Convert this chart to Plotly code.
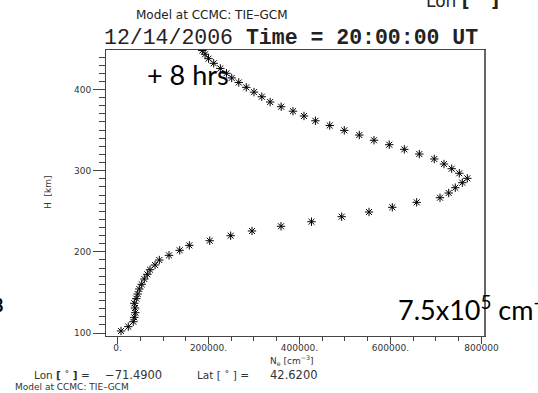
import plotly.graph_objects as go

heights = [102.5, 107.8, 113.9, 119.3, 125.0, 130.8, 136.6, 142.3, 148.0, 154.2,
           160.0, 166.5, 172.3, 178.0, 183.8, 189.9, 195.7, 201.9, 208.0, 213.7,
           219.9, 225.7, 231.5, 237.1, 243.3, 249.1, 254.9, 261.0, 266.7, 272.5,
           279.0, 285.2, 290.6, 296.8, 302.4, 308.2, 314.4, 320.5, 326.3, 332.0,
           337.5, 343.9, 349.7, 355.7, 361.5, 367.4, 373.3, 378.8, 384.6, 391.1,
           396.8, 402.7, 408.7, 414.3, 420.0, 426.0, 432.3, 438.0, 443.5, 448.0]
density = [7700, 23700, 34700, 36900, 39100, 38500, 36900, 41300, 44400, 47900,
           53200, 58900, 65500, 71400, 82400, 91900, 113200, 136700, 157800, 202700,
           248800, 295600, 359400, 426400, 492800, 552800, 604000, 657600, 708900, 728000,
           742500, 757900, 768900, 751300, 734600, 717600, 696300, 663400, 630400, 597400,
           563800, 531500, 498500, 466500, 435000, 409900, 385700, 359700, 335500, 317200,
           300000, 283000, 266500, 251000, 239500, 226000, 211500, 200000, 192500, 186400]

x_tickvals = [0, 200000, 400000, 600000, 800000]
x_ticktext = ["0.", "200000.", "400000.", "600000.", "800000"]
y_tickvals = [100, 200, 300, 400]
y_ticktext = ["100", "200", "300", "400"]

W, H = 538, 393
L, R, T, B = 106, 485, 50, 336


def P(px, py):
    return dict(x=(px - L) / (R - L), y=(B - py) / (B - T), xref="paper", yref="paper")


SANS = "DejaVu Sans"

fig = go.Figure(go.Scatter(
    x=density, y=heights, mode="markers", cliponaxis=True, showlegend=False,
    hoverinfo="skip",
    marker=dict(symbol="asterisk-open", size=7, color="black",
                line=dict(width=1, color="black")),
))

axis_common = dict(showgrid=False, zeroline=False, showline=True, linecolor="#444",
                   linewidth=1, mirror=True, ticks="outside", tickcolor="#444",
                   tickwidth=1, automargin=False,
                   tickfont=dict(family=SANS, size=9, color="#333"))

fig.update_layout(
    width=W, height=H,
    margin=dict(l=L, r=W - R, t=T, b=H - B, pad=0),
    paper_bgcolor="white", plot_bgcolor="white",
    xaxis=dict(range=[-25300, 807800], tickvals=x_tickvals, ticktext=x_ticktext,
               ticklen=7, ticklabelstandoff=-4,
               minor=dict(ticks="outside", dtick=50000, tick0=0, ticklen=4,
                          tickcolor="#444", showgrid=False),
               **axis_common),
    yaxis=dict(range=[96.3, 448.7], tickvals=y_tickvals, ticktext=y_ticktext,
               ticklen=12,
               minor=dict(ticks="outside", dtick=10, tick0=100, ticklen=6,
                          tickcolor="#444", showgrid=False),
               **axis_common),
)

ann = []
# top header
ann.append(dict(text="Model at CCMC: TIE\u2013GCM", font=dict(family=SANS, size=12, color="#222"),
                showarrow=False, xanchor="center", yanchor="middle", **P(212, 15)))
ann.append(dict(text="12/14/2006 <b>Time = 20:00:00 UT</b>",
                font=dict(family="Liberation Mono", size=21.5, color="#222"),
                showarrow=False, xanchor="center", yanchor="middle", **P(291, 38)))
# cut-off label at very top right
ann.append(dict(text="Lon <b>[</b>    <b>]</b>", font=dict(family=SANS, size=17, color="#222"),
                showarrow=False, xanchor="left", yanchor="middle", **P(424, 1)))
# overlay annotations
ann.append(dict(text="+ 8 hrs", font=dict(family="Lato", size=27, color="black"),
                showarrow=False, xanchor="left", yanchor="middle", **P(145, 74)))
ann.append(dict(text="7.5x10<sup>5</sup> cm<sup>-3</sup>", font=dict(family="Lato", size=27, color="black"),
                showarrow=False, xanchor="left", yanchor="middle", **P(396, 308)))
ann.append(dict(text="<b>8</b>", font=dict(family="Lato", size=18, color="black"),
                showarrow=False, xanchor="right", yanchor="middle", **P(5, 305)))
# axis titles
ann.append(dict(text="H  [km]", font=dict(family=SANS, size=9, color="#333"), textangle=-90,
                showarrow=False, xanchor="center", yanchor="middle", **P(48, 192)))
ann.append(dict(text="N<sub>e</sub> [cm<sup>\u22123</sup>]", font=dict(family=SANS, size=9, color="#333"),
                showarrow=False, xanchor="center", yanchor="middle", **P(292, 360)))
# bottom info
ann.append(dict(text="Lon <b>[</b> \u02da <b>]</b> =", font=dict(family=SANS, size=10.5, color="#333"),
                showarrow=False, xanchor="left", yanchor="middle", **P(32, 375)))
ann.append(dict(text="\u221271.4900", font=dict(family=SANS, size=11.5, color="#333"),
                showarrow=False, xanchor="left", yanchor="middle", **P(103, 375)))
ann.append(dict(text="Lat [ \u02da ] =", font=dict(family=SANS, size=10.5, color="#333"),
                showarrow=False, xanchor="left", yanchor="middle", **P(195, 375)))
ann.append(dict(text="42.6200", font=dict(family=SANS, size=11.5, color="#333"),
                showarrow=False, xanchor="left", yanchor="middle", **P(268, 375)))
ann.append(dict(text="Model at CCMC: TIE\u2013GCM", font=dict(family=SANS, size=9, color="#333"),
                showarrow=False, xanchor="left", yanchor="middle", **P(13, 387)))

fig.update_layout(annotations=ann)
fig.add_shape(type="line", xref="paper", yref="paper", x0=1, x1=1, y0=0, y1=1,
              line=dict(color="#666", width=2))

fig.write_html("out.html", config={"displayModeBar": False},
               post_script="document.body.style.margin='0';document.body.style.overflow='hidden';")
